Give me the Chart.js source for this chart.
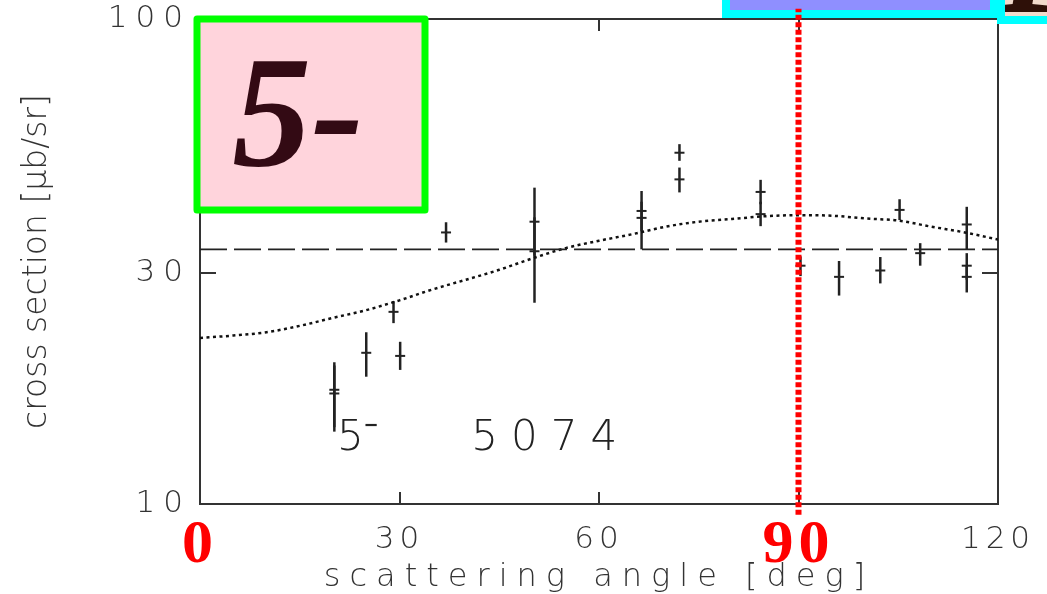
<!DOCTYPE html>
<html>
<head>
<meta charset="utf-8">
<script src="https://cdn.jsdelivr.net/npm/chart.js@4.4.1/dist/chart.umd.min.js"></script>
<style>
  html, body { margin: 0; padding: 0; background: #fff; }
  #wrap { width: 1047px; height: 594px; }
</style>
</head>
<body>
<div id="wrap"><canvas id="xsChart" width="1047" height="594"></canvas></div>
<script>
// measured cross sections (5- state, 5074), error bars as upper / lower ends
const angles  = [20.2, 20.2, 25.0, 29.1, 30.1, 37.0, 50.3, 50.3, 66.4, 66.4, 72.1, 72.1, 84.3, 84.3, 90.3, 96.1, 102.3, 105.2, 108.3, 115.3, 115.3, 115.3];
const sigma   = [17.2, 16.9, 20.5, 24.9, 20.2, 36.3, 38.2, 33.2, 40.2, 38.9, 53.0, 46.7, 44.0, 39.6, 31.0, 29.4, 30.3, 40.4, 32.9, 37.7, 31.0, 29.4];
const sigmaHi = [19.6, 19.3, 22.6, 26.2, 21.6, 38.1, 44.9, 39.0, 44.2, 42.0, 55.2, 49.4, 46.6, 42.0, 32.4, 31.7, 32.3, 42.5, 34.5, 41.0, 32.9, 31.0];
const sigmaLo = [14.4, 14.1, 18.3, 23.6, 18.9, 34.6, 32.5, 26.0, 36.5, 33.5, 51.0, 43.9, 41.5, 37.4, 29.5, 26.9, 28.5, 38.5, 31.0, 33.4, 29.0, 27.3];

// isotropic fit (dashed) and angular distribution fit (dotted)
const flatLevel = 33.5;
const curveAngles = [0, 5, 10, 15, 20, 25, 30, 35, 40, 45, 50, 55, 60, 65, 70, 75, 80, 85, 90, 95, 100, 105, 110, 115, 120];
const curveValues = [22.0, 22.25, 22.6, 23.3, 24.2, 25.1, 26.3, 27.7, 29.0, 30.4, 32.1, 33.7, 34.9, 36.0, 37.3, 38.2, 38.7, 39.2, 39.4, 39.3, 38.8, 38.4, 37.3, 36.3, 35.1];

const xTicks = [0, 30, 60, 90, 120];
const redTicks = [0, 90];
const yTicks = [10, 30, 100];
const markedAngle = 90;
const markerSpan = [9.5, 105];

const ink = '#333';
const grayFont = { family: '"DejaVu Sans", sans-serif', size: 31, weight: 300 };
const redFont = { family: '"Liberation Serif", "Times New Roman", serif', size: 62, weight: 'bold', lineHeight: 0.8 };
const isRed = c => c.tick !== undefined && redTicks.includes(c.tick.value);

// letter spacing per scale part (the original uses a wide stroke font)
const spacing = { x: { drawLabels: '5px', drawTitle: '9px' }, y: { drawLabels: '8px', drawTitle: '0px' } };

function spaced(scale, method, value) {
  const orig = scale[method];
  scale[method] = function (...args) {
    const ctx = this.ctx;
    ctx.save();
    ctx.letterSpacing = value;
    orig.apply(this, args);
    ctx.restore();
  };
}

// keep the plot frame where the layout padding puts it
function noOverflow(s) {
  s.paddingTop = 0;
  s.paddingBottom = 0;
  s.paddingLeft = 0;
  s.paddingRight = 0;
}

const overlay = {
  id: 'overlay',
  beforeDraw(chart) {
    for (const id of Object.keys(spacing)) {
      const s = chart.scales[id];
      if (s._spaced) continue;
      for (const m of Object.keys(spacing[id])) spaced(s, m, spacing[id][m]);
      s._spaced = true;
    }
  },
  beforeDatasetsDraw(chart) {
    const { ctx, chartArea: ca, scales: { x, y } } = chart;
    ctx.save();
    ctx.letterSpacing = '0px';

    // error bars
    ctx.strokeStyle = '#222';
    ctx.lineWidth = 2.5;
    angles.forEach((a, i) => {
      const px = x.getPixelForValue(a);
      ctx.beginPath();
      ctx.moveTo(px, y.getPixelForValue(sigmaHi[i]));
      ctx.lineTo(px, y.getPixelForValue(sigmaLo[i]));
      ctx.stroke();
    });

    // state label inside the plot
    ctx.fillStyle = '#222';
    ctx.font = '300 42px "DejaVu Sans", sans-serif';
    ctx.textBaseline = 'alphabetic';
    ctx.textAlign = 'left';
    ctx.fillText('5\u207B', x.getPixelForValue(20.6), y.getPixelForValue(12.9));
    ctx.letterSpacing = '13px';
    ctx.fillText('5074', x.getPixelForValue(40.8), y.getPixelForValue(12.9));
    ctx.letterSpacing = '0px';

    // pink "5-" box
    ctx.fillStyle = '#ffd4dc';
    ctx.fillRect(ca.left - 3, ca.top, 228, 191);
    ctx.strokeStyle = '#00ff00';
    ctx.lineWidth = 7;
    ctx.lineJoin = 'round';
    ctx.strokeRect(ca.left - 3, ca.top, 228, 191);
    ctx.fillStyle = '#330a14';
    ctx.font = 'italic bold 158px "Liberation Serif", serif';
    ctx.textAlign = 'center';
    ctx.fillText('5-', ca.left + 98, ca.top + 146);

    // boxes cut off at the top edge
    ctx.lineJoin = 'miter';
    ctx.lineWidth = 8;
    ctx.strokeStyle = '#00ffff';
    ctx.fillStyle = '#8f8fff';
    ctx.fillRect(726, -6, 268, 20);
    ctx.strokeRect(726, -6, 268, 20);
    ctx.fillStyle = '#f2dacc';
    ctx.fillRect(1001, -6, 60, 26);
    ctx.strokeRect(1001, -6, 60, 26);
    ctx.save();
    ctx.beginPath();
    ctx.rect(1005, 0, 50, 16);
    ctx.clip();
    ctx.fillStyle = '#2e1008';
    ctx.font = 'italic bold 150px "Liberation Serif", serif';
    ctx.textAlign = 'left';
    ctx.fillText('1', 990, 12);
    ctx.restore();

    ctx.restore();
  }
};

const ctx = document.getElementById('xsChart').getContext('2d');
const xsChart = new Chart(ctx, {
  type: 'scatter',
  data: {
    datasets: [
      {
        label: 'marker',
        type: 'line',
        data: markerSpan.map(v => ({ x: markedAngle, y: v })),
        borderColor: '#ff0000',
        borderWidth: 6,
        borderDash: [5, 2.5],
        pointRadius: 0,
        clip: false,
        order: 0
      },
      {
        label: 'data',
        data: angles.map((a, i) => ({ x: a, y: sigma[i] })),
        pointStyle: 'line',
        pointRadius: 5,
        borderColor: '#222',
        borderWidth: 2,
        order: 1
      },
      {
        label: 'flat',
        type: 'line',
        data: [{ x: 0, y: flatLevel }, { x: 120, y: flatLevel }],
        borderColor: '#222',
        borderWidth: 1.6,
        borderDash: [27, 7],
        pointRadius: 0,
        order: 2
      },
      {
        label: 'fit',
        type: 'line',
        data: curveAngles.map((a, i) => ({ x: a, y: curveValues[i] })),
        borderColor: '#111',
        borderWidth: 2.5,
        borderDash: [3, 3.5],
        cubicInterpolationMode: 'monotone',
        pointRadius: 0,
        order: 3
      }
    ]
  },
  options: {
    responsive: false,
    animation: false,
    events: [],
    layout: { padding: { top: 19, right: 49, left: 0, bottom: 0 } },
    plugins: { legend: { display: false }, tooltip: { enabled: false } },
    scales: {
      x: {
        type: 'linear', axis: 'x', position: 'bottom', min: 0, max: 120,
        afterBuildTicks: s => { s.ticks = xTicks.map(v => ({ value: v })); },
        afterFit: s => { s.height = 90; noOverflow(s); },
        border: { display: true, color: ink, width: 2 },
        grid: { drawOnChartArea: false, tickLength: -12, color: ink, lineWidth: 2 },
        ticks: {
          padding: 29, maxRotation: 0, autoSkip: false,
          callback: v => String(v),
          color: c => isRed(c) ? '#ff0000' : ink,
          font: c => isRed(c) ? redFont : grayFont
        },
        title: { display: true, text: 'scattering angle [deg]', color: ink, padding: 0,
          font: { family: '"DejaVu Sans", sans-serif', size: 32, weight: 300, lineHeight: 1.0 } }
      },
      x2: {
        type: 'linear', axis: 'x', position: 'top', min: 0, max: 120,
        afterBuildTicks: s => { s.ticks = xTicks.map(v => ({ value: v })); },
        afterFit: s => { s.height = 0; noOverflow(s); },
        border: { display: true, color: ink, width: 2 },
        grid: { drawOnChartArea: false, tickLength: -12, color: ink, lineWidth: 2 },
        ticks: { display: false }
      },
      y: {
        type: 'logarithmic', axis: 'y', position: 'left', min: 10, max: 100,
        afterBuildTicks: s => { s.ticks = yTicks.map(v => ({ value: v })); },
        afterFit: s => { s.width = 200; noOverflow(s); },
        border: { display: true, color: ink, width: 2 },
        grid: { drawOnChartArea: false, tickLength: -16, color: ink, lineWidth: 2 },
        ticks: { padding: 25, color: ink, font: grayFont, callback: v => String(v) },
        title: { display: true, text: 'cross section [\u03BCb/sr]', color: ink, padding: { top: 18, bottom: 0 },
          font: { family: '"DejaVu Sans", sans-serif', size: 33, weight: 300 } }
      },
      y2: {
        type: 'logarithmic', axis: 'y', position: 'right', min: 10, max: 100,
        afterBuildTicks: s => { s.ticks = yTicks.map(v => ({ value: v })); },
        afterFit: s => { s.width = 0; noOverflow(s); },
        border: { display: true, color: ink, width: 2 },
        grid: { drawOnChartArea: false, tickLength: -16, color: ink, lineWidth: 2 },
        ticks: { display: false }
      }
    }
  },
  plugins: [overlay]
});
</script>
</body>
</html>
